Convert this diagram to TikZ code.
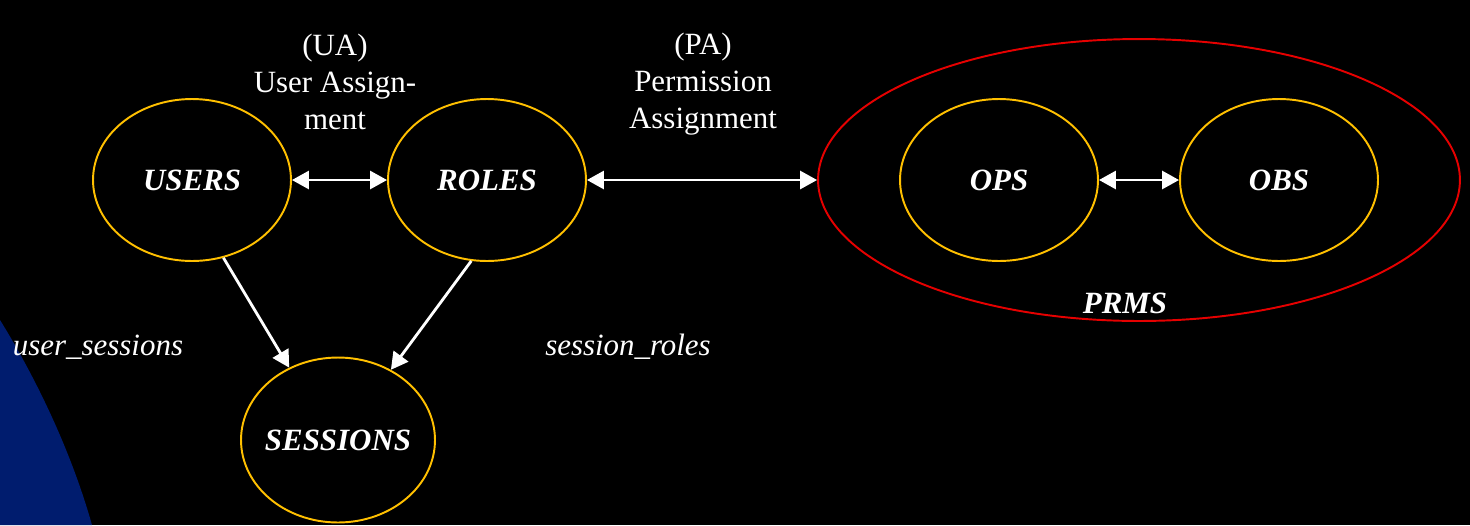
\documentclass[tikz,border=0pt]{standalone}
\usepackage{fontspec}
\setmainfont{Liberation Serif}
\usetikzlibrary{positioning, shapes.geometric, arrows.meta}

\definecolor{setgold}{RGB}{255,192,0}
\definecolor{setred}{RGB}{230,0,0}
\definecolor{slideblue}{RGB}{0,28,110}

\tikzset{
  every node/.style={font=\fontsize{17.6}{21}\selectfont, text=white},
  setnode/.style={ellipse, draw=setgold, line width=1.1pt, inner xsep=-8pt, inner ysep=0pt, minimum width=3.96cm, minimum height=3.24cm, font=\fontsize{17.6}{21}\selectfont\bfseries\itshape},
  link/.style={draw=white, line width=1.6pt, -{Triangle[length=0.34cm, width=0.36cm]}},
  dlink/.style={link, {Triangle[length=0.34cm, width=0.36cm]}-{Triangle[length=0.34cm, width=0.36cm]}}
}

\begin{document}
\begin{tikzpicture}[x=0.02cm, y=-0.02cm]
    % Background
    \fill[black] (0,0) rectangle (1470,525);
    \useasboundingbox (0,0) rectangle (1470,525);
    \fill[slideblue] (0,320) .. controls (28,365) and (68,440) .. (92,525) -- (0,525) -- cycle;

    % Permission set
    \node[ellipse, draw=setred, line width=1.1pt, minimum width=12.84cm, minimum height=5.64cm] (prms) at (1139,180) {};
    \node[font=\fontsize{17.6}{21}\selectfont\bfseries\itshape] (prmslabel) at (1125,303) {PRMS};

    % Sets
    \foreach \n/\x/\y/\t in {users/192/180/USERS, roles/487/180/ROLES, ops/999/180/OPS, obs/1279/180/OBS} {
      \node[setnode] (\n) at (\x,\y) {\t};
    }
    \node[setnode, minimum width=3.88cm, minimum height=3.3cm] (sessions) at (338,440) {SESSIONS};

    % Relation labels
    \node[align=center] (ua) at (335,82) {(UA)\\User Assign-\\ment};
    \node[align=center] (pa) at (703,84) {(PA)\\Permission\\Assignment};
    \node[font=\fontsize{17.6}{21}\selectfont\itshape] (us) at (98,347) {user\_sessions};
    \node[font=\fontsize{17.6}{21}\selectfont\itshape] (sr) at (628,347) {session\_roles};

    % Connectors
    \draw[dlink] (users) -- (roles);
    \draw[dlink] (roles) -- (prms);
    \draw[dlink] (ops) -- (obs);
    \draw[link] (users.-68) -- (sessions.124);
    \draw[link] (roles.-101) -- (sessions.53);
\end{tikzpicture}
\end{document}
